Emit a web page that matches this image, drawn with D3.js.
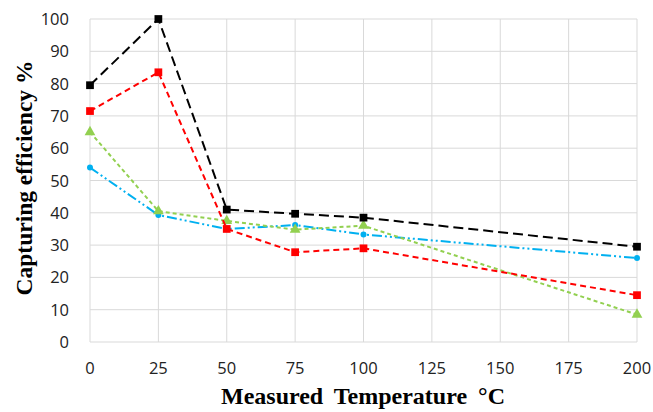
<!DOCTYPE html>
<html><head><meta charset="utf-8">
<script src="https://cdn.jsdelivr.net/npm/d3@7/dist/d3.min.js"></script>
<style>body{margin:0;background:#fff}svg{display:block}</style>
</head><body>
<svg id="c" width="653" height="412"></svg>
<script>
const temps = [0, 25, 50, 75, 100, 200];
const blackVals = [79.5, 100, 41, 39.7, 38.5, 29.5];
const redVals = [71.5, 83.5, 35, 27.8, 29, 14.5];
const greenVals = [65, 40.5, 37.5, 34.8, 36, 8.5];
const blueVals = [54, 39.3, 35, 36.2, 33.3, 26];
const xTicks = [0, 25, 50, 75, 100, 125, 150, 175, 200];
const yTicks = [0, 10, 20, 30, 40, 50, 60, 70, 80, 90, 100];

const series = [
  {vals: blueVals, color: "#00b0f0", dash: "10,3,2,3,2,3", marker: "circle"},
  {vals: greenVals, color: "#92d050", dash: "4,3", marker: "triangle"},
  {vals: redVals, color: "#ff0000", dash: "6,4", marker: "square"},
  {vals: blackVals, color: "#000000", dash: "10,5", marker: "square"}
];

const svg = d3.select("#c");
const x = d3.scaleLinear().domain([0, 200]).range([90, 637]);
const y = d3.scaleLinear().domain([0, 100]).range([342, 19]);

const g = svg.append("g");
g.selectAll("line.h").data(yTicks).join("line")
  .attr("x1", x(0)).attr("x2", x(200)).attr("y1", d => y(d)).attr("y2", d => y(d))
  .attr("stroke", "#d9d9d9").attr("stroke-width", 1);
g.selectAll("line.v").data(xTicks).join("line")
  .attr("y1", y(0)).attr("y2", y(100)).attr("x1", d => x(d)).attr("x2", d => x(d))
  .attr("stroke", "#d9d9d9").attr("stroke-width", 1);

const font = "'Open Sans', 'Liberation Sans', sans-serif";
svg.selectAll("text.yt").data(yTicks).join("text")
  .attr("x", 69).attr("y", d => y(d) + 6).attr("text-anchor", "end")
  .attr("font-family", font).attr("font-size", 16.5).attr("fill", "#222")
  .text(d => d);
svg.selectAll("text.xt").data(xTicks).join("text")
  .attr("x", d => x(d)).attr("y", 374).attr("text-anchor", "middle")
  .attr("font-family", font).attr("font-size", 16.5).attr("fill", "#222")
  .text(d => d);

const line = d3.line().x((d, i) => x(temps[i])).y(d => y(d));
series.forEach(s => {
  svg.append("path").datum(s.vals).attr("d", line)
    .attr("fill", "none").attr("stroke", s.color).attr("stroke-width", 2)
    .attr("stroke-dasharray", s.dash);
  const sym = s.marker === "circle" ? d3.symbolCircle : s.marker === "triangle" ? d3.symbolTriangle : d3.symbolSquare;
  const size = s.marker === "circle" ? 28 : s.marker === "triangle" ? 50 : 60;
  svg.selectAll(null).data(s.vals).join("path")
    .attr("transform", (d, i) => `translate(${x(temps[i])},${y(d)})`)
    .attr("d", d3.symbol().type(sym).size(size))
    .attr("fill", s.color);
});

const serif = "'Liberation Serif', 'Times New Roman', serif";
svg.append("text").attr("x", 363).attr("y", 404).attr("text-anchor", "middle")
  .attr("font-family", serif).attr("font-weight", "bold").attr("word-spacing", 5)
  .attr("font-size", 24).attr("fill", "#000").text("Measured Temperature °C");
svg.append("text").attr("transform", "translate(32,178) rotate(-90)").attr("text-anchor", "middle")
  .attr("font-family", serif).attr("font-weight", "bold")
  .attr("font-size", 23.5).attr("fill", "#000").text("Capturing efficiency %");
</script>
</body></html>
